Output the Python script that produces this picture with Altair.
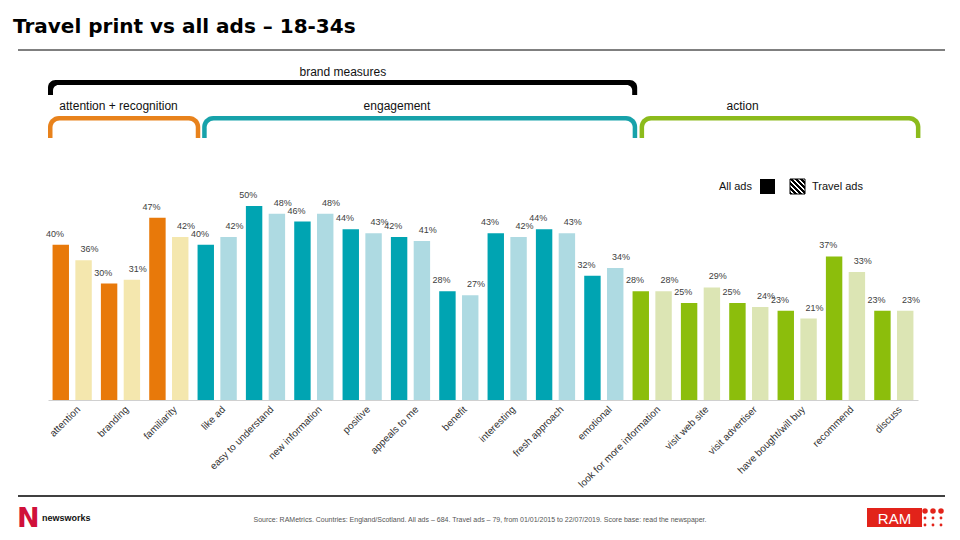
import altair as alt
import pandas as pd

# ---------------- data ----------------
categories = [
    "attention", "branding", "familiarity", "like ad", "easy to understand",
    "new information", "positive", "appeals to me", "benefit", "interesting",
    "fresh approach", "emotional", "look for more information", "visit web site",
    "visit advertiser", "have bought/will buy", "recommend", "discuss",
]
groups = (["attention + recognition"] * 3 + ["engagement"] * 9 + ["action"] * 6)
all_ads = [40, 30, 47, 40, 50, 46, 44, 42, 28, 43, 44, 32, 28, 25, 25, 23, 37, 23]
travel_ads = [36, 31, 42, 42, 48, 48, 43, 41, 27, 42, 43, 34, 28, 29, 24, 21, 33, 23]
series_names = ["All ads", "Travel ads"]

group_names = ["attention + recognition", "engagement", "action"]
group_colors_all = ["#E8790A", "#00A4B2", "#8CBE0C"]
group_colors_travel = ["#F4E7AE", "#AEDAE2", "#DCE5B4"]
brace_colors = ["#E8821C", "#17A2AA", "#8CBB1C"]

# brace spans in category units (left edge of first category = 0)
brace_start = [0.0, 3.19, 12.24]
brace_end = [3.15, 12.19, 18.05]
brace_label_pos = [1.46, 7.22, 14.37]
brand_start, brand_end, brand_label_pos = 0.0, 12.19, 6.1

title_text = "Travel print vs all ads \u2013 18-34s"
source_text = ("Source: RAMetrics. Countries: England/Scotland. All ads \u2013 684. "
               "Travel ads \u2013 79, from 01/01/2015 to 22/07/2019. Score base: read the newspaper.")

# ---------------- tables ----------------
rows = []
for c, g, a, t in zip(categories, groups, all_ads, travel_ads):
    for s, v in zip(series_names, [a, t]):
        rows.append({"cat": c, "series": s, "value": v, "key": g + "|" + s, "label": f"{v}%"})
df = pd.DataFrame(rows)

keys, key_colors = [], []
for g, ca, ct in zip(group_names, group_colors_all, group_colors_travel):
    keys += [g + "|All ads", g + "|Travel ads"]
    key_colors += [ca, ct]

braces = pd.DataFrame({"name": group_names, "start": brace_start, "end": brace_end,
                       "pos": brace_label_pos, "color": brace_colors})
brand = pd.DataFrame({"name": ["brand measures"], "start": [brand_start], "end": [brand_end],
                      "pos": [brand_label_pos]})

one = pd.DataFrame({"a": [1]})
FONT = "Liberation Sans"

xq = alt.Scale(domain=[0, 18], nice=False, zero=False)
xband = alt.Scale(paddingInner=0, paddingOuter=0)
xoff = alt.Scale(paddingInner=0.28, paddingOuter=0.2)
yscale = alt.Scale(domain=[0, 50], nice=False)

bars = alt.Chart(df).mark_bar().encode(
    x=alt.X("cat:N", sort=categories, scale=xband,
            axis=alt.Axis(title=None, labelAngle=-45, ticks=False, domainColor="#d0d0d0",
                          labelFontSize=10, labelColor="#333333", labelFont=FONT,
                          labelPadding=4, labelOffset=3, labelOverlap=False, labelLimit=300)),
    xOffset=alt.XOffset("series:N", sort=series_names, scale=xoff),
    y=alt.Y("value:Q", scale=yscale, axis=None),
    color=alt.Color("key:N", scale=alt.Scale(domain=keys, range=key_colors), legend=None),
)

labels = alt.Chart(df).mark_text(dy=-8, baseline="alphabetic", fontSize=9, font=FONT,
                                 color="#404040").encode(
    x=alt.X("cat:N", sort=categories, scale=xband, axis=None),
    xOffset=alt.XOffset("series:N", sort=series_names, scale=xoff),
    y=alt.Y("value:Q", scale=yscale, axis=None),
    text="label:N",
)

# braces
brace_outer = alt.Chart(braces).mark_rect(cornerRadiusTopLeft=11, cornerRadiusTopRight=11).encode(
    x=alt.X("start:Q", scale=xq, axis=None), x2="end:Q",
    y=alt.value(-90), y2=alt.value(-68),
    color=alt.Color("color:N", scale=None),
)
brace_inner = alt.Chart(braces).mark_rect(color="white", cornerRadiusTopLeft=7,
                                          cornerRadiusTopRight=7, xOffset=4.5,
                                          x2Offset=-4.5, yOffset=4.5).encode(
    x=alt.X("start:Q", scale=xq, axis=None), x2="end:Q",
    y=alt.value(-90), y2=alt.value(-67),
)
brace_text = alt.Chart(braces).mark_text(fontSize=12, font=FONT, color="#111111",
                                         baseline="alphabetic").encode(
    x=alt.X("pos:Q", scale=xq, axis=None), y=alt.value(-96), text="name:N",
)
brand_outer = alt.Chart(brand).mark_rect(color="black", cornerRadiusTopLeft=11,
                                         cornerRadiusTopRight=11).encode(
    x=alt.X("start:Q", scale=xq, axis=None), x2="end:Q",
    y=alt.value(-126), y2=alt.value(-111),
)
brand_inner = alt.Chart(brand).mark_rect(color="white", cornerRadiusTopLeft=6,
                                         cornerRadiusTopRight=6, xOffset=5,
                                         x2Offset=-5, yOffset=5).encode(
    x=alt.X("start:Q", scale=xq, axis=None), x2="end:Q",
    y=alt.value(-126), y2=alt.value(-110),
)
brand_text = alt.Chart(brand).mark_text(fontSize=12, font=FONT, color="#111111",
                                        baseline="alphabetic").encode(
    x=alt.X("pos:Q", scale=xq, axis=None), y=alt.value(-130), text="name:N",
)

# title and rules
title = alt.Chart(one).mark_text(text=title_text, font="DejaVu Sans", fontWeight="bold",
                                 fontSize=20, align="left", baseline="alphabetic",
                                 color="black").encode(x=alt.value(-35), y=alt.value(-173))
top_rule = alt.Chart(one).mark_rule(color="black", strokeWidth=1).encode(
    x=alt.value(-30), x2=alt.value(897), y=alt.value(-156))
bottom_rule = alt.Chart(one).mark_rule(color="black", strokeWidth=1.5).encode(
    x=alt.value(-30), x2=alt.value(897), y=alt.value(290))

# legend
leg_all_text = alt.Chart(one).mark_text(text="All ads", fontSize=11, font=FONT, align="right",
                                        baseline="alphabetic", color="#111111").encode(
    x=alt.value(704), y=alt.value(-16))
leg_all_box = alt.Chart(one).mark_rect(color="black").encode(
    x=alt.value(712), x2=alt.value(727), y=alt.value(-27), y2=alt.value(-12))
stops = []
n = 6
for i in range(n):
    a, b = i / n, (i + 0.5) / n
    stops += [alt.GradientStop(offset=a, color="black"), alt.GradientStop(offset=b, color="black"),
              alt.GradientStop(offset=b, color="white"), alt.GradientStop(offset=(i + 1) / n, color="white")]
hatch = alt.LinearGradient(gradient="linear", stops=stops, x1=0, y1=1, x2=1, y2=0)
leg_tr_box = alt.Chart(one).mark_rect(fill=hatch, stroke="black", strokeWidth=1).encode(
    x=alt.value(742), x2=alt.value(757), y=alt.value(-27), y2=alt.value(-12))
leg_tr_text = alt.Chart(one).mark_text(text="Travel ads", fontSize=11, font=FONT, align="left",
                                       baseline="alphabetic", color="#111111").encode(
    x=alt.value(764), y=alt.value(-16))

# footer
n_logo = alt.Chart(one).mark_text(text="N", font="DejaVu Sans", fontWeight="bold", fontSize=27,
                                  align="left", baseline="alphabetic", color="#D0103A").encode(
    x=alt.value(-31), y=alt.value(321))
nw_text = alt.Chart(one).mark_text(text="newsworks", font=FONT, fontWeight="bold", fontSize=9,
                                   align="left", baseline="alphabetic", color="#111111").encode(
    x=alt.value(-6), y=alt.value(315))
src = alt.Chart(one).mark_text(text=source_text, font=FONT, fontSize=7, align="center",
                               baseline="alphabetic", color="#555555").encode(
    x=alt.value(432), y=alt.value(316))
ram_box = alt.Chart(one).mark_rect(color="#E2231A").encode(
    x=alt.value(819), x2=alt.value(874), y=alt.value(302), y2=alt.value(321))
ram_text = alt.Chart(one).mark_text(text="RAM", font=FONT, fontSize=15, align="center",
                                    baseline="alphabetic", color="white").encode(
    x=alt.value(846.5), y=alt.value(318))
dots = pd.DataFrame({"dx": [877, 885, 893, 877, 885, 893, 877, 885, 893],
                     "dy": [305, 305, 305, 312, 312, 312, 319, 319, 319],
                     "sz": [30, 30, 30, 8, 8, 8, 8, 8, 8]})
ram_dots = alt.Chart(dots).mark_circle(color="#E2231A", opacity=1).encode(
    x=alt.X("dx:Q", scale=None), y=alt.Y("dy:Q", scale=None),
    size=alt.Size("sz:Q", scale=None, legend=None))

chart = alt.layer(
    bars, labels,
    brand_outer, brand_inner, brand_text,
    brace_outer, brace_inner, brace_text,
    title, top_rule, bottom_rule,
    leg_all_text, leg_all_box, leg_tr_box, leg_tr_text,
    n_logo, nw_text, src, ram_box, ram_text, ram_dots,
).resolve_scale(x="independent", y="independent", xOffset="independent").properties(
    width=870, height=194,
    padding={"left": 40, "top": 198, "right": 34, "bottom": 132},
    autosize=alt.AutoSizeParams(type="none"),
).configure_view(stroke=None)

chart.save("out.html", embed_options={"renderer": "svg", "actions": False})
